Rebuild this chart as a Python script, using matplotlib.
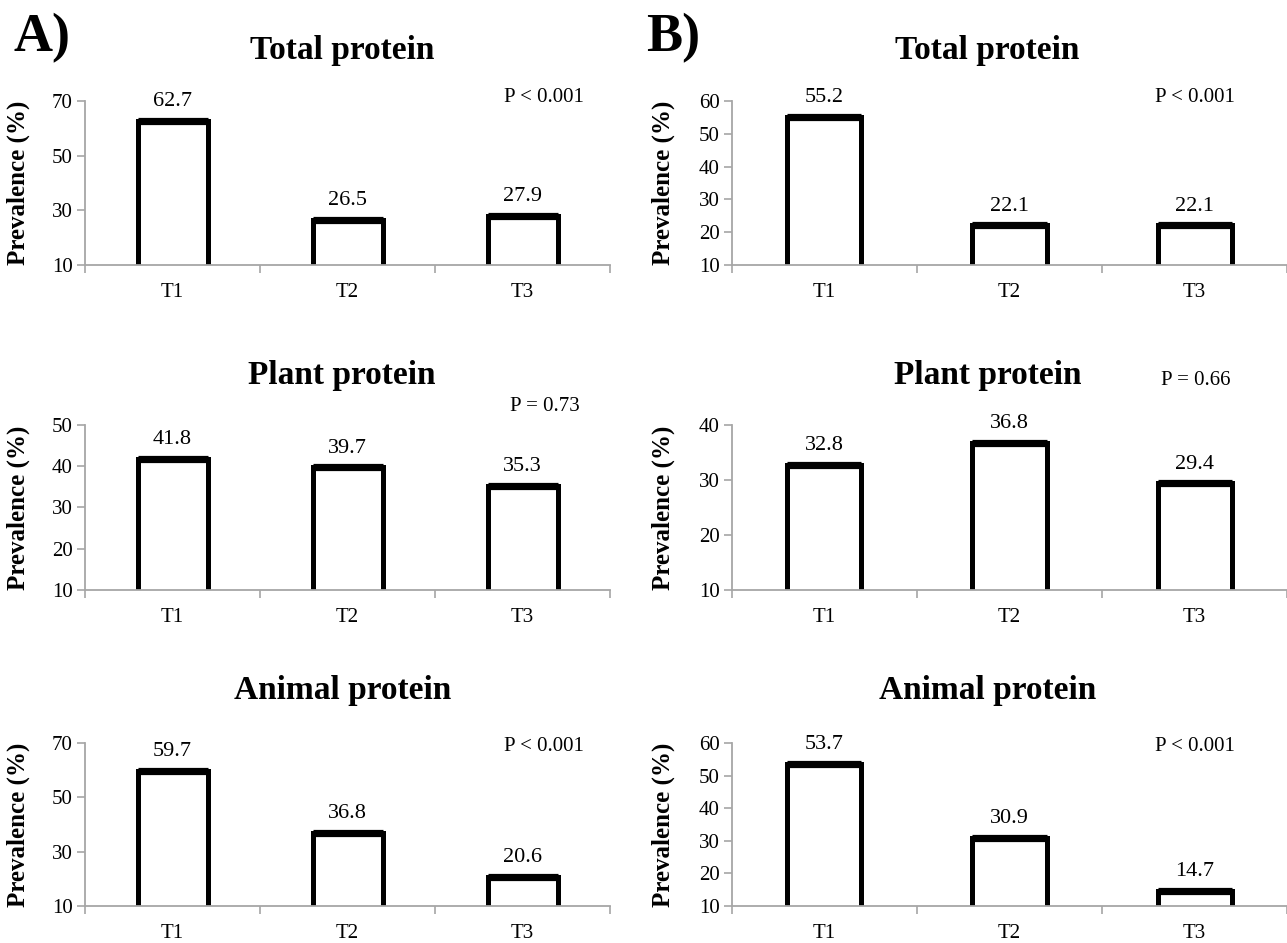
import matplotlib
matplotlib.use("Agg")
import matplotlib.pyplot as plt
import numpy as np

plt.rcParams['font.family'] = ['Liberation Serif', 'DejaVu Serif']

# ---------------- data ----------------
groups = ['T1', 'T2', 'T3']
titles = ['Total protein', 'Plant protein', 'Animal protein']

a_total = [62.7, 26.5, 27.9]
a_plant = [41.8, 39.7, 35.3]
a_animal = [59.7, 36.8, 20.6]
b_total = [55.2, 22.1, 22.1]
b_plant = [32.8, 36.8, 29.4]
b_animal = [53.7, 30.9, 14.7]

a_pvals = ['P < 0.001', 'P = 0.73', 'P < 0.001']
b_pvals = ['P < 0.001', 'P = 0.66', 'P < 0.001']

a_yticks = [[10, 30, 50, 70], [10, 20, 30, 40, 50], [10, 30, 50, 70]]
b_yticks = [[10, 20, 30, 40, 50, 60], [10, 20, 30, 40], [10, 20, 30, 40, 50, 60]]
#---------------------------------------

W, H = 1287, 943
fig = plt.figure(figsize=(W / 100, H / 100), dpi=100)

grey = '#a6a6a6'
# pixel layout: (left, right) per column, (top, bottom) per row
cols = {'A': (85, 610), 'B': (732, 1287)}
rows = [(101, 265), (425, 590), (743, 906)]
bw = 0.40


def px_axes(x0, x1, y0, y1):
    return fig.add_axes([x0 / W, 1 - y1 / H, (x1 - x0) / W, (y1 - y0) / H])


def panel(ax, vals, yticks, title, ptxt, title_x, p_x, p_y, title_y):
    x = np.arange(len(groups))
    ax.bar(x, vals, width=bw, color='white', edgecolor='black', linewidth=3.6, zorder=2)
    ax.hlines(vals, x - bw / 2, x + bw / 2, color='black', linewidth=5.2, zorder=3)
    for xi, v in zip(x, vals):
        ax.annotate(f'{v:.1f}', (xi, v), xytext=(0, 7), textcoords='offset points',
                    ha='center', va='bottom', fontsize=16)
    ax.set_ylim(yticks[0], yticks[-1])
    ax.set_yticks(yticks)
    ax.set_xticks(x)
    ax.set_xticklabels(groups)
    ax.set_xticks([-0.5, 0.5, 1.5, 2.5], minor=True)
    ax.tick_params(axis='x', which='major', length=0, pad=13, labelsize=15)
    ax.tick_params(axis='x', which='minor', length=6, color=grey, width=1.2, direction='out')
    ax.tick_params(axis='y', length=6, color=grey, width=1.2, labelsize=15, pad=3)
    for s in ['top', 'right']:
        ax.spines[s].set_visible(False)
    for s in ['left', 'bottom']:
        ax.spines[s].set_color(grey)
        ax.spines[s].set_linewidth(1.3)
        ax.spines[s].set_zorder(4)
    ax.set_ylabel('Prevalence (%)', fontsize=18, fontweight='bold')
    ax.text(title_x, title_y, title, transform=ax.transAxes, ha='center', va='center',
            fontsize=24, fontweight='bold')
    ax.text(p_x, p_y, ptxt, transform=ax.transAxes, ha='center', va='center', fontsize=15)


a_data = [a_total, a_plant, a_animal]
b_data = [b_total, b_plant, b_animal]
a_p_y = [1.02, 1.115, 0.98]
b_p_y = [1.02, 1.27, 0.98]
title_y = [1.31, 1.30, 1.32]

for i, (top, bot) in enumerate(rows):
    x0, x1 = cols['A']
    ax = px_axes(x0, x1, top, bot)
    ax.set_xlim(-0.5, -0.5 + (x1 - x0) / 188)
    panel(ax, a_data[i], a_yticks[i], titles[i], a_pvals[i], 0.49, 0.875, a_p_y[i], title_y[i])
    ax.yaxis.set_label_coords(-0.105, 0.5)

    x0, x1 = cols['B']
    ax = px_axes(x0, x1, top, bot)
    ax.set_xlim(-0.5, -0.5 + (x1 - x0) / 188)
    panel(ax, b_data[i], b_yticks[i], titles[i], b_pvals[i], 0.46, 0.835, b_p_y[i], title_y[i])
    ax.yaxis.set_label_coords(-0.103, 0.5)

fig.text(14 / W, 1 - 38 / H, 'A)', fontsize=39, fontweight='bold', ha='left', va='center')
fig.text(646 / W, 1 - 38 / H, 'B)', fontsize=39, fontweight='bold', ha='left', va='center')

fig.savefig('out.png', dpi=100)
